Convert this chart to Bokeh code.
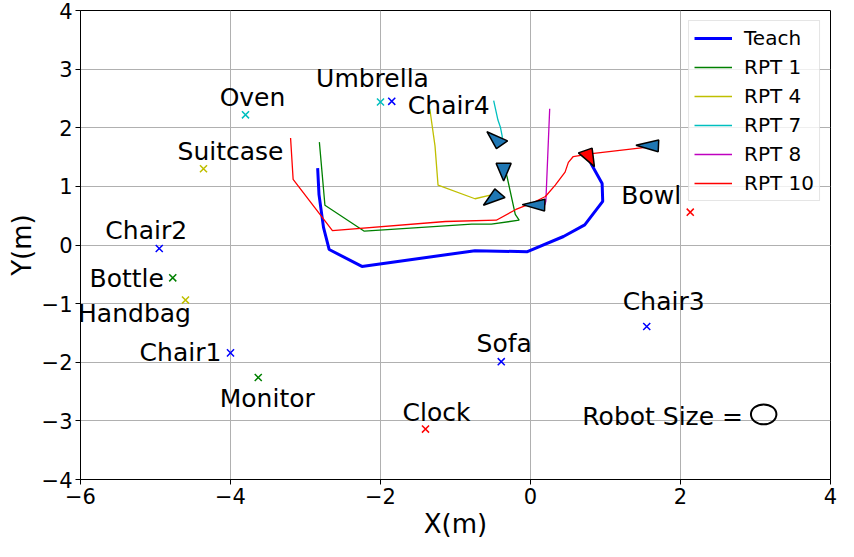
import numpy as np
from bokeh.plotting import figure
from bokeh.models import Range1d, FixedTicker, Legend, LegendItem, ColumnDataSource
from bokeh.embed import file_html
from bokeh.resources import INLINE
from bokeh.core.properties import value

# ---------------- data ----------------
teach_x = [0.73, 0.81, 0.955, 0.963, 0.723, 0.44, -0.041, -0.741, -2.248, -2.684, -2.76, -2.82, -2.838]
teach_y = [1.61, 1.383, 1.05, 0.744, 0.344, 0.145, -0.115, -0.098, -0.365, -0.077, 0.30, 0.86, 1.310]

rpt1_x = [-0.358, -0.312, -0.203, -0.151, -0.522, -0.784, -2.216, -2.741, -2.815]
rpt1_y = [1.393, 1.160, 0.522, 0.423, 0.356, 0.356, 0.235, 0.677, 1.754]

rpt4_x = [-0.408, -0.522, -0.740, -1.233, -1.273, -1.343]
rpt4_y = [0.883, 0.855, 0.789, 1.022, 1.687, 2.324]

rpt7_x = [-0.380, -0.377, -0.400, -0.434, -0.491]
rpt7_y = [1.709, 1.854, 2.003, 2.131, 2.464]

rpt8_x = [0.190, 0.205, 0.230, 0.256]
rpt8_y = [0.681, 0.75, 1.521, 2.324]

rpt10_x = [1.706, 0.789, 0.570, 0.505, 0.461, 0.330, 0.199, 0.025, -0.194, -0.456, -1.134, -2.641, -3.165, -3.199]
rpt10_y = [1.692, 1.554, 1.509, 1.409, 1.243, 1.022, 0.827, 0.717, 0.606, 0.423, 0.401, 0.245, 1.121, 1.825]

# end poses (x, y, heading in degrees)
pose_x = [-0.380, -0.358, -0.408, 0.190, 1.706]
pose_y = [1.709, 1.393, 0.883, 0.681, 1.692]
pose_th = [132.0, -90.0, -137.0, 178.5, 178.0]
teach_pose = (0.73, 1.612, -66.0)

obj_names = ["Chair2", "Bottle", "Handbag", "Suitcase", "Oven", "Umbrella", "Chair4",
             "Chair1", "Monitor", "Sofa", "Clock", "Chair3", "Bowl"]
obj_x = [-4.95, -4.77, -4.60, -4.36, -3.80, -2.00, -1.85, -4.00, -3.63, -0.39, -1.40, 1.55, 2.13]
obj_y = [-0.06, -0.56, -0.94, 1.30, 2.22, 2.44, 2.45, -1.84, -2.26, -1.99, -3.14, -1.39, 0.56]
obj_colors = ["#0000ff", "#008000", "#bfbf00", "#bfbf00", "#00bfbf", "#00bfbf", "#0000ff",
              "#0000ff", "#008000", "#0000ff", "#ff0000", "#0000ff", "#ff0000"]
# label offsets in screen pixels (style)
lab_dx = [-13, -46, -51, 27, 7, -8, 57, -50, 9, 3, 11, 17, -39]
lab_dy = [-18, 1, 13, -17, -17, -23, 4, 0, 21, -18, -17, -25, -17]

robot_x, robot_y, robot_d = 3.109, -2.889, 0.34

FONT = "DejaVu Sans"

# ---------------- figure ----------------
p = figure(width=838, height=541, output_backend="svg", toolbar_location=None,
           x_range=Range1d(-6, 4), y_range=Range1d(-4, 4),
           min_border_left=80, min_border_right=8, min_border_top=10, min_border_bottom=55)
p.background_fill_color = "white"
p.border_fill_color = "white"
p.outline_line_color = "black"
p.outline_line_width = 1

p.xaxis.ticker = FixedTicker(ticks=[-6, -4, -2, 0, 2, 4])
p.yaxis.ticker = FixedTicker(ticks=[-4, -3, -2, -1, 0, 1, 2, 3, 4])
for ax in (p.xaxis, p.yaxis):
    ax.major_label_text_font = FONT
    ax.major_label_text_font_size = "21px"
    ax.major_label_text_color = "black"
    ax.axis_label_text_font = FONT
    ax.axis_label_text_font_size = "26px"
    ax.axis_label_text_font_style = "normal"
    ax.axis_label_text_color = "black"
    ax.minor_tick_line_color = None
    ax.major_tick_in = 0
    ax.major_tick_out = 5
    ax.major_tick_line_color = "black"
    ax.axis_line_color = "black"
    ax.major_label_standoff = 3
p.xaxis.axis_label = "X(m)"
p.yaxis.axis_label = "Y(m)"
p.xaxis.axis_label_standoff = 2
p.yaxis.axis_label_standoff = 2

p.grid.grid_line_color = "#b0b0b0"
p.grid.grid_line_width = 1

# paths
r_teach = p.line(teach_x, teach_y, line_color="#0000ff", line_width=3)
r1 = p.line(rpt1_x, rpt1_y, line_color="#008000", line_width=1.3)
r4 = p.line(rpt4_x, rpt4_y, line_color="#bfbf00", line_width=1.3)
r7 = p.line(rpt7_x, rpt7_y, line_color="#00bfbf", line_width=1.3)
r8 = p.line(rpt8_x, rpt8_y, line_color="#bf00bf", line_width=1.3)
r10 = p.line(rpt10_x, rpt10_y, line_color="#ff0000", line_width=1.3)

# arrow heads at poses (in data units)
HL, HW = 0.3, 0.2
def head(x, y, th):
    t = np.deg2rad(th)
    c, s = np.cos(t), np.sin(t)
    return ([x + HL * c, x - HW / 2 * s, x + HW / 2 * s],
            [y + HL * s, y + HW / 2 * c, y - HW / 2 * c])

xs, ys = [], []
for x, y, th in zip(pose_x, pose_y, pose_th):
    hx, hy = head(x, y, th)
    xs.append(hx); ys.append(hy)
p.patches(xs, ys, fill_color="#1f77b4", line_color="black", line_width=1.5)
tx, ty = head(*teach_pose)
p.patches([tx], [ty], fill_color="#ff0000", line_color="black", line_width=1.5)

# objects
src = ColumnDataSource(dict(x=obj_x, y=obj_y, c=obj_colors, name=obj_names, dx=lab_dx, dy=lab_dy))
p.scatter("x", "y", source=src, marker="x", size=10, line_color="c", line_width=1.5)
p.text("x", "y", text="name", source=src, x_offset="dx", y_offset="dy",
       text_align="center", text_baseline="middle", text_color="black",
       text_font=value(FONT), text_font_size=value("25px"))

# robot size
p.ellipse([robot_x], [robot_y], width=robot_d, height=robot_d, fill_color=None,
          line_color="black", line_width=2)
p.text([robot_x], [robot_y], text=["Robot Size ="], x_offset=-101, y_offset=2,
       text_align="center", text_baseline="middle", text_color="black",
       text_font=value(FONT), text_font_size=value("25px"))

legend = Legend(items=[
    LegendItem(label="Teach", renderers=[r_teach]),
    LegendItem(label="RPT 1", renderers=[r1]),
    LegendItem(label="RPT 4", renderers=[r4]),
    LegendItem(label="RPT 7", renderers=[r7]),
    LegendItem(label="RPT 8", renderers=[r8]),
    LegendItem(label="RPT 10", renderers=[r10]),
], location="top_right")
legend.margin = 10
legend.padding = 5
legend.spacing = 5
legend.glyph_width = 38
legend.glyph_height = 20
legend.label_height = 20
legend.label_standoff = 12
legend.label_text_font = FONT
legend.label_text_font_size = "20px"
legend.label_text_color = "black"
legend.border_line_color = "#cccccc"
legend.border_line_width = 1
legend.background_fill_alpha = 0.8
p.add_layout(legend)

open("out.html", "w").write(file_html(p, INLINE))
